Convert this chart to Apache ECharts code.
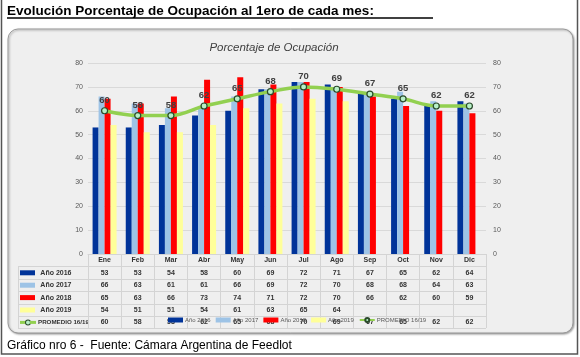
<!DOCTYPE html>
<html><head><meta charset="utf-8">
<script src="https://cdn.jsdelivr.net/npm/echarts@6/dist/echarts.min.js"></script>
<style>html,body{margin:0;padding:0;background:#fff;}#c{width:580px;height:357px;}</style>
</head><body><div id="c"></div>
<script>
const months = ['Ene','Feb','Mar','Abr','May','Jun','Jul','Ago','Sep','Oct','Nov','Dic'];
const y2016 = [53,53,54,58,60,69,72,71,67,65,62,64];
const y2017 = [66,63,61,61,66,69,72,70,68,68,64,63];
const y2018 = [65,63,66,73,74,71,72,70,66,62,60,59];
const y2019 = [54,51,51,54,61,63,65,64,null,null,null,null];
const promedio = [60,58,58,62,65,68,70,69,67,65,62,62];
const yTicks = [0,10,20,30,40,50,60,70,80];

const C16 = '#003399', C17 = '#9dc3e6', C18 = '#ff0000', C19 = '#ffff99', CP = '#92d050';
const FONT = 'Liberation Sans, Arial, sans-serif';

const chart = echarts.init(document.getElementById('c'), null, {renderer:'canvas'});

const gridL = 88, gridR = 486, gridT = 63, gridB = 254;
const rowH = 12.4;
const rows = [
  {name:'Año 2016', data:y2016, color:C16},
  {name:'Año 2017', data:y2017, color:C17},
  {name:'Año 2018', data:y2018, color:C18},
  {name:'Año 2019', data:y2019, color:C19},
  {name:'PROMEDIO 16/19', data:promedio, color:CP, line:true}
];

const tableAxes = rows.map((r, i) => ({
  type:'category', data: months, gridIndex:0, position:'bottom',
  offset: rowH*(i+1) + rowH/2 + 0.2,
  axisLine:{show:false, onZero:false}, axisTick:{show:false},
  axisLabel:{interval:0, margin:0, verticalAlign:'middle', fontSize:7, fontWeight:'bold', color:'#333', fontFamily:FONT,
    formatter:(v, idx) => (r.data[idx] == null ? '' : String(r.data[idx]))},
  name: r.line ? '{g|}{c|}{g|}{t|' + r.name + '}' : '{s|} {t|' + r.name + '}',
  nameLocation:'start', nameGap: gridL - 20,
  nameTextStyle:{align:'left', verticalAlign:'middle',
    rich:{
      s:{width:15, height:5, backgroundColor:r.color},
      g:{width:6, height:3, backgroundColor:CP},
      c:{width:4, height:4, backgroundColor:'#b8f0c8', borderColor:'#2a4a2a', borderWidth:1, borderRadius:3},
      t:{fontSize: r.line ? 6.2 : 7, fontWeight:'bold', color:'#333', fontFamily:FONT, padding:[0,0,0,2]}
    }}
}));

// table decoration lines
const tableLines = [];
for (let k = 1; k <= 6; k++) {
  const y = Math.round(gridB + rowH*k) + 0.5;
  tableLines.push({type:'line', shape:{x1:18, y1:y, x2:gridR, y2:y}, style:{stroke:'#d4d4d4', lineWidth:1}, z:1});
}
tableLines.push({type:'line', shape:{x1:18.5, y1:Math.round(gridB+rowH)+0.5, x2:18.5, y2:Math.round(gridB+rowH*6)+0.5}, style:{stroke:'#d4d4d4', lineWidth:1}, z:1});

const barBase = {type:'bar', barWidth:6, barGap:'0%', xAxisIndex:0, yAxisIndex:0};

chart.setOption({
  animation:false,
  textStyle:{fontFamily:FONT},
  title:{text:'Porcentaje de Ocupación', left:269, top:37, textAlign:'center',
    textStyle:{fontSize:11.5, fontStyle:'italic', fontWeight:'normal', color:'#404040', fontFamily:FONT}},
  legend:{left:168, top:317, itemWidth:15, itemHeight:5, itemGap:5, padding:0,
    textStyle:{fontSize:6, color:'#595959', padding:[0,0,0,-3]},
    data:[{name:'Año 2016', icon:'rect'},{name:'Año 2017', icon:'rect'},{name:'Año 2018', icon:'rect'},{name:'Año 2019', icon:'rect'},{name:'PROMEDIO 16/19'}]},
  graphic:[
    {type:'rect', shape:{x:1.5, y:-2, width:576, height:356}, style:{fill:'#fff', stroke:'#555', lineWidth:1.5}, z:-10},
    {type:'rect', shape:{x:8, y:29, width:565, height:304, r:10}, style:{fill:'#efefef', stroke:'#9a9a9a', lineWidth:1, shadowBlur:2, shadowOffsetX:1, shadowOffsetY:1, shadowColor:'rgba(0,0,0,0.35)'}, z:-9},
    {type:'text', left:7, top:4, style:{text:'Evolución Porcentaje de Ocupación al 1ero de cada mes:', font:'bold 13.5px '+FONT, fill:'#000'}, z:5},
    {type:'line', shape:{x1:7, y1:18, x2:433, y2:18}, style:{stroke:'#000', lineWidth:1.5}, z:5},
    {type:'text', left:7, top:340, style:{text:'Gráfico nro 6 -  Fuente: Cámara Argentina de Feedlot', font:'12px '+FONT, fill:'#000'}, z:5},
    ...tableLines
  ],
  grid:{left:gridL, right:580-gridR, top:gridT, bottom:357-gridB, containLabel:false},
  xAxis:[
    {type:'category', data:months, position:'bottom',
      axisLine:{show:true, onZero:false, lineStyle:{color:'#d4d4d4', width:1}},
      axisTick:{show:true, length:Math.round(rowH*6), alignWithLabel:false, lineStyle:{color:'#d4d4d4'}},
      axisLabel:{interval:0, margin:2.5, fontSize:7, fontWeight:'bold', color:'#333', fontFamily:FONT}},
    ...tableAxes
  ],
  yAxis:[
    {type:'value', min:0, max:80, interval:10, position:'left',
      axisLine:{show:false}, axisTick:{show:false},
      axisLabel:{fontSize:7, color:'#595959', margin:5, formatter:v => yTicks.includes(v) ? String(v) : ''},
      splitLine:{lineStyle:{color:'#d9d9d9', width:1}}},
    {type:'value', min:0, max:80, interval:10, position:'right',
      axisLine:{show:false}, axisTick:{show:false},
      axisLabel:{fontSize:7, color:'#595959', margin:7},
      splitLine:{show:false}}
  ],
  series:[
    {...barBase, name:'Año 2016', data:y2016, itemStyle:{color:C16}},
    {...barBase, name:'Año 2017', data:y2017, itemStyle:{color:C17}},
    {...barBase, name:'Año 2018', data:y2018, itemStyle:{color:C18}},
    {...barBase, name:'Año 2019', data:y2019, itemStyle:{color:C19}},
    {type:'line', name:'PROMEDIO 16/19', data:promedio, xAxisIndex:0, yAxisIndex:0, smooth:0.35, z:5,
      lineStyle:{color:CP, width:3.5},
      symbol:'circle', symbolSize:6,
      itemStyle:{color:'#b8f0c8', borderColor:'#2a4a2a', borderWidth:1.2},
      label:{show:true, position:'top', distance:2, fontSize:9.5, fontWeight:'bold', color:'#404040', fontFamily:FONT}}
  ]
});
</script></body></html>
